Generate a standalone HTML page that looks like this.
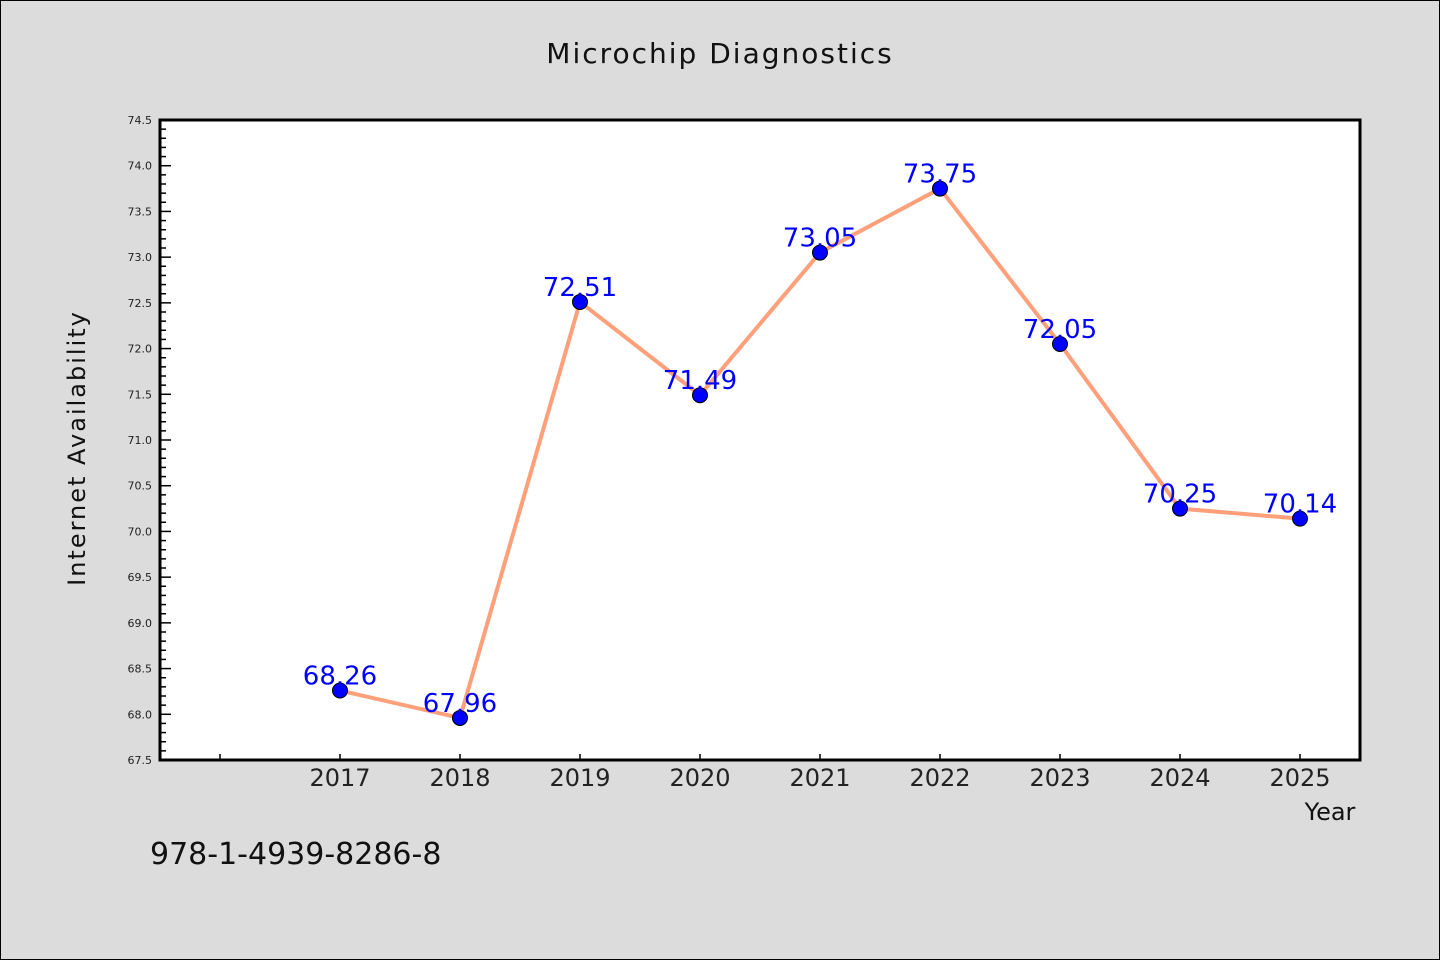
<!DOCTYPE html>
<html><head><meta charset="utf-8"><style>
html,body{margin:0;padding:0;background:#dcdcdc;}
svg{display:block;font-family:"DejaVu Sans","Liberation Sans",sans-serif;}
</style></head><body>
<svg id="chart" width="1440" height="960">
<rect x="0.5" y="0.5" width="1439" height="959" fill="#dcdcdc" stroke="#000"/>
<text x="720" y="63" text-anchor="middle" font-size="28" fill="#111" letter-spacing="2">Microchip Diagnostics</text>
<rect x="160" y="120" width="1200" height="640" fill="#fff"/>
<g id="axes"></g>
<g id="series"></g>
<rect x="160" y="120" width="1200" height="640" fill="none" stroke="#000" stroke-width="3"/>
<text x="1330" y="820" text-anchor="middle" font-size="24" fill="#111">Year</text>
<text transform="translate(85,448) rotate(-90)" text-anchor="middle" font-size="24" fill="#111" letter-spacing="2">Internet Availability</text>
<text x="150" y="864" font-size="30" fill="#111">978-1-4939-8286-8</text>
</svg>
<script>
const years=[2017,2018,2019,2020,2021,2022,2023,2024,2025];
const values=[68.26,67.96,72.51,71.49,73.05,73.75,72.05,70.25,70.14];
const labels=["68.26","67.96","72.51","71.49","73.05","73.75","72.05","70.25","70.14"];
const yMin=67.5,yMax=74.5,xMin=2015.5,xMax=2025.5;
const X=v=>160+(v-xMin)/(xMax-xMin)*1200;
const Y=v=>760-(v-yMin)/(yMax-yMin)*640;
const NS="http://www.w3.org/2000/svg";
function mk(t,a,p){const e=document.createElementNS(NS,t);for(const k in a)e.setAttribute(k,a[k]);p.appendChild(e);return e;}
const ax=document.getElementById('axes'),se=document.getElementById('series');
for(let i=0;i<=70;i++){const v=yMin+i*0.1,y=Y(v),maj=i%5===0;
const t=mk('line',{x1:160,x2:maj?171:166,y1:y,y2:y,stroke:'#000','stroke-width':1.5},ax);


if(maj){const l=mk('text',{x:152,y:y+4,'text-anchor':'end','font-size':11,fill:'#222'},ax);l.textContent=v.toFixed(1);

}}
for(let yr=2016;yr<=2025;yr++){const x=X(yr);
const t=mk('line',{x1:x,x2:x,y1:760,y2:754,stroke:'#000','stroke-width':1.5},ax);


if(yr>=2017){const l=mk('text',{x:x,y:786,'text-anchor':'middle','font-size':24,fill:'#222'},ax);l.textContent=yr;

}}
const pts=years.map((y,i)=>X(y)+','+Y(values[i])).join(' ');
const ln=mk('polyline',{points:pts,fill:'none',stroke:'#ffa07a','stroke-width':4,'stroke-linejoin':'round'},se);


years.forEach((yr,i)=>{const c=mk('circle',{cx:X(yr),cy:Y(values[i]),r:7.5,fill:'#0000ff',stroke:'#000','stroke-width':1},se);


const l=mk('text',{x:X(yr),y:Y(values[i])-6,'text-anchor':'middle','font-size':26,fill:'#0000ff'},se);l.textContent=labels[i];

});
</script>
</body></html>
